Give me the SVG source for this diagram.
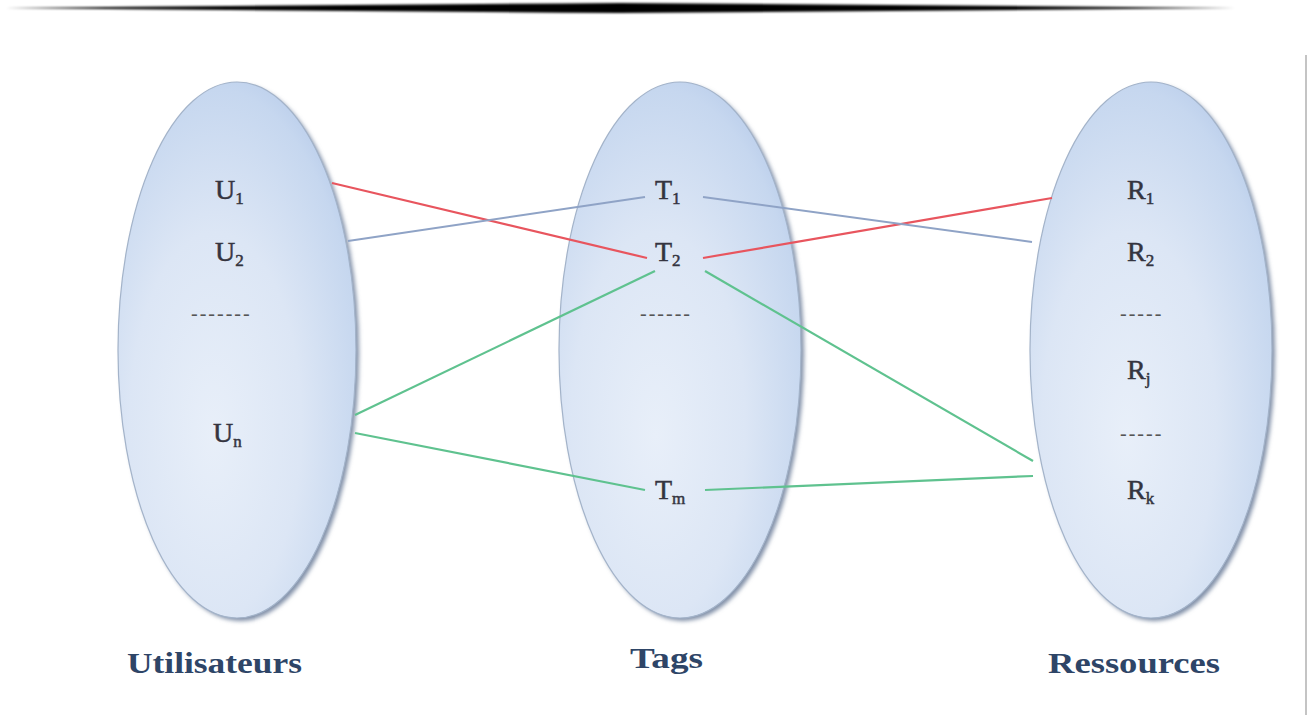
<svg xmlns="http://www.w3.org/2000/svg" width="1311" height="715" viewBox="0 0 1311 715">
  <defs>
    <radialGradient id="setFill" cx="0.42" cy="0.62" r="0.72" fx="0.4" fy="0.66">
      <stop offset="0" stop-color="#e8eff9"/>
      <stop offset="0.5" stop-color="#dce6f5"/>
      <stop offset="0.85" stop-color="#c6d7ef"/>
      <stop offset="1" stop-color="#b2c7e8"/>
    </radialGradient>
    <filter id="soft" x="-10%" y="-10%" width="120%" height="120%">
      <feGaussianBlur stdDeviation="2"/>
    </filter>
    <filter id="blurLine" x="-5%" y="-200%" width="110%" height="500%">
      <feGaussianBlur stdDeviation="1.2"/>
    </filter>
    <style>
      text { font-family: "Liberation Serif", "Times New Roman", serif; }
      .set { fill: url(#setFill); stroke: #a3b3c9; stroke-width: 1.2; }
      .shade { fill: #8190a8; filter: url(#soft); }
      .item { font-size: 28px; fill: #34343f; stroke: #34343f; stroke-width: 0.5; }
      .sub { font-size: 17px; }
      .dots { font-size: 20px; fill: #555; letter-spacing: 2px; }
      .title { font-weight: bold; font-size: 30px; fill: #2e4567; }
      .red { stroke: #e8555e; stroke-width: 2.2; fill: none; }
      .blue { stroke: #8fa3c6; stroke-width: 2; fill: none; }
      .green { stroke: #5fc28f; stroke-width: 2.2; fill: none; }
    </style>
  </defs>

  <rect width="1311" height="715" fill="#ffffff"/>

  <!-- tapered rule across the top -->
  <path d="M5,8 Q320,5 620,3 Q640,8 620,13 Q320,11 5,8 Z M620,3 Q930,5 1235,8 Q930,11 620,13 Z" fill="#000" filter="url(#blurLine)"/>
  <!-- right frame edge -->
  <line x1="1306" y1="55" x2="1306" y2="715" stroke="#c4c4c4" stroke-width="2"/>

  <!-- Users set -->
  <g id="users">
    <ellipse class="shade" cx="240" cy="353" rx="119" ry="268"/>
    <ellipse class="set" cx="237" cy="350" rx="119" ry="268"/>
    <text class="item" x="215" y="199">U<tspan class="sub" dy="5">1</tspan></text>
    <text class="item" x="215" y="261">U<tspan class="sub" dy="5">2</tspan></text>
    <text class="dots" x="191" y="320">-------</text>
    <text class="item" x="213" y="442">U<tspan class="sub" dy="5">n</tspan></text>
  </g>

  <!-- Tags set -->
  <g id="tags">
    <ellipse class="shade" cx="683" cy="353" rx="121" ry="268"/>
    <ellipse class="set" cx="680" cy="350" rx="121" ry="268"/>
    <text class="item" x="655" y="199">T<tspan class="sub" dy="5">1</tspan></text>
    <text class="item" x="655" y="261">T<tspan class="sub" dy="5">2</tspan></text>
    <text class="dots" x="640" y="320">------</text>
    <text class="item" x="655" y="499">T<tspan class="sub" dy="5">m</tspan></text>
  </g>

  <!-- Resources set -->
  <g id="resources">
    <ellipse class="shade" cx="1154" cy="353" rx="121" ry="268"/>
    <ellipse class="set" cx="1151" cy="350" rx="121" ry="268"/>
    <text class="item" x="1127" y="199">R<tspan class="sub" dy="5">1</tspan></text>
    <text class="item" x="1127" y="261">R<tspan class="sub" dy="5">2</tspan></text>
    <text class="dots" x="1120" y="320">-----</text>
    <text class="item" x="1127" y="379">R<tspan class="sub" dy="5">j</tspan></text>
    <text class="dots" x="1120" y="440">-----</text>
    <text class="item" x="1127" y="499">R<tspan class="sub" dy="5">k</tspan></text>
  </g>

  <!-- links between users, tags and resources -->
  <g id="connectors">
    <line class="red" x1="332" y1="183" x2="647" y2="258"/>
    <line class="red" x1="703" y1="258" x2="1052" y2="198"/>
    <line class="blue" x1="348" y1="241" x2="645" y2="197"/>
    <line class="blue" x1="703" y1="197" x2="1032" y2="242"/>
    <line class="green" x1="355" y1="415" x2="655" y2="271"/>
    <line class="green" x1="355" y1="433" x2="645" y2="490"/>
    <line class="green" x1="705" y1="271" x2="1033" y2="461"/>
    <line class="green" x1="705" y1="490" x2="1033" y2="476"/>
  </g>

  <!-- set captions -->
  <g id="captions">
    <text class="title" x="127" y="673" textLength="175" lengthAdjust="spacingAndGlyphs">Utilisateurs</text>
    <text class="title" x="630" y="668" textLength="73" lengthAdjust="spacingAndGlyphs">Tags</text>
    <text class="title" x="1048" y="673" textLength="172" lengthAdjust="spacingAndGlyphs">Ressources</text>
  </g>
</svg>
